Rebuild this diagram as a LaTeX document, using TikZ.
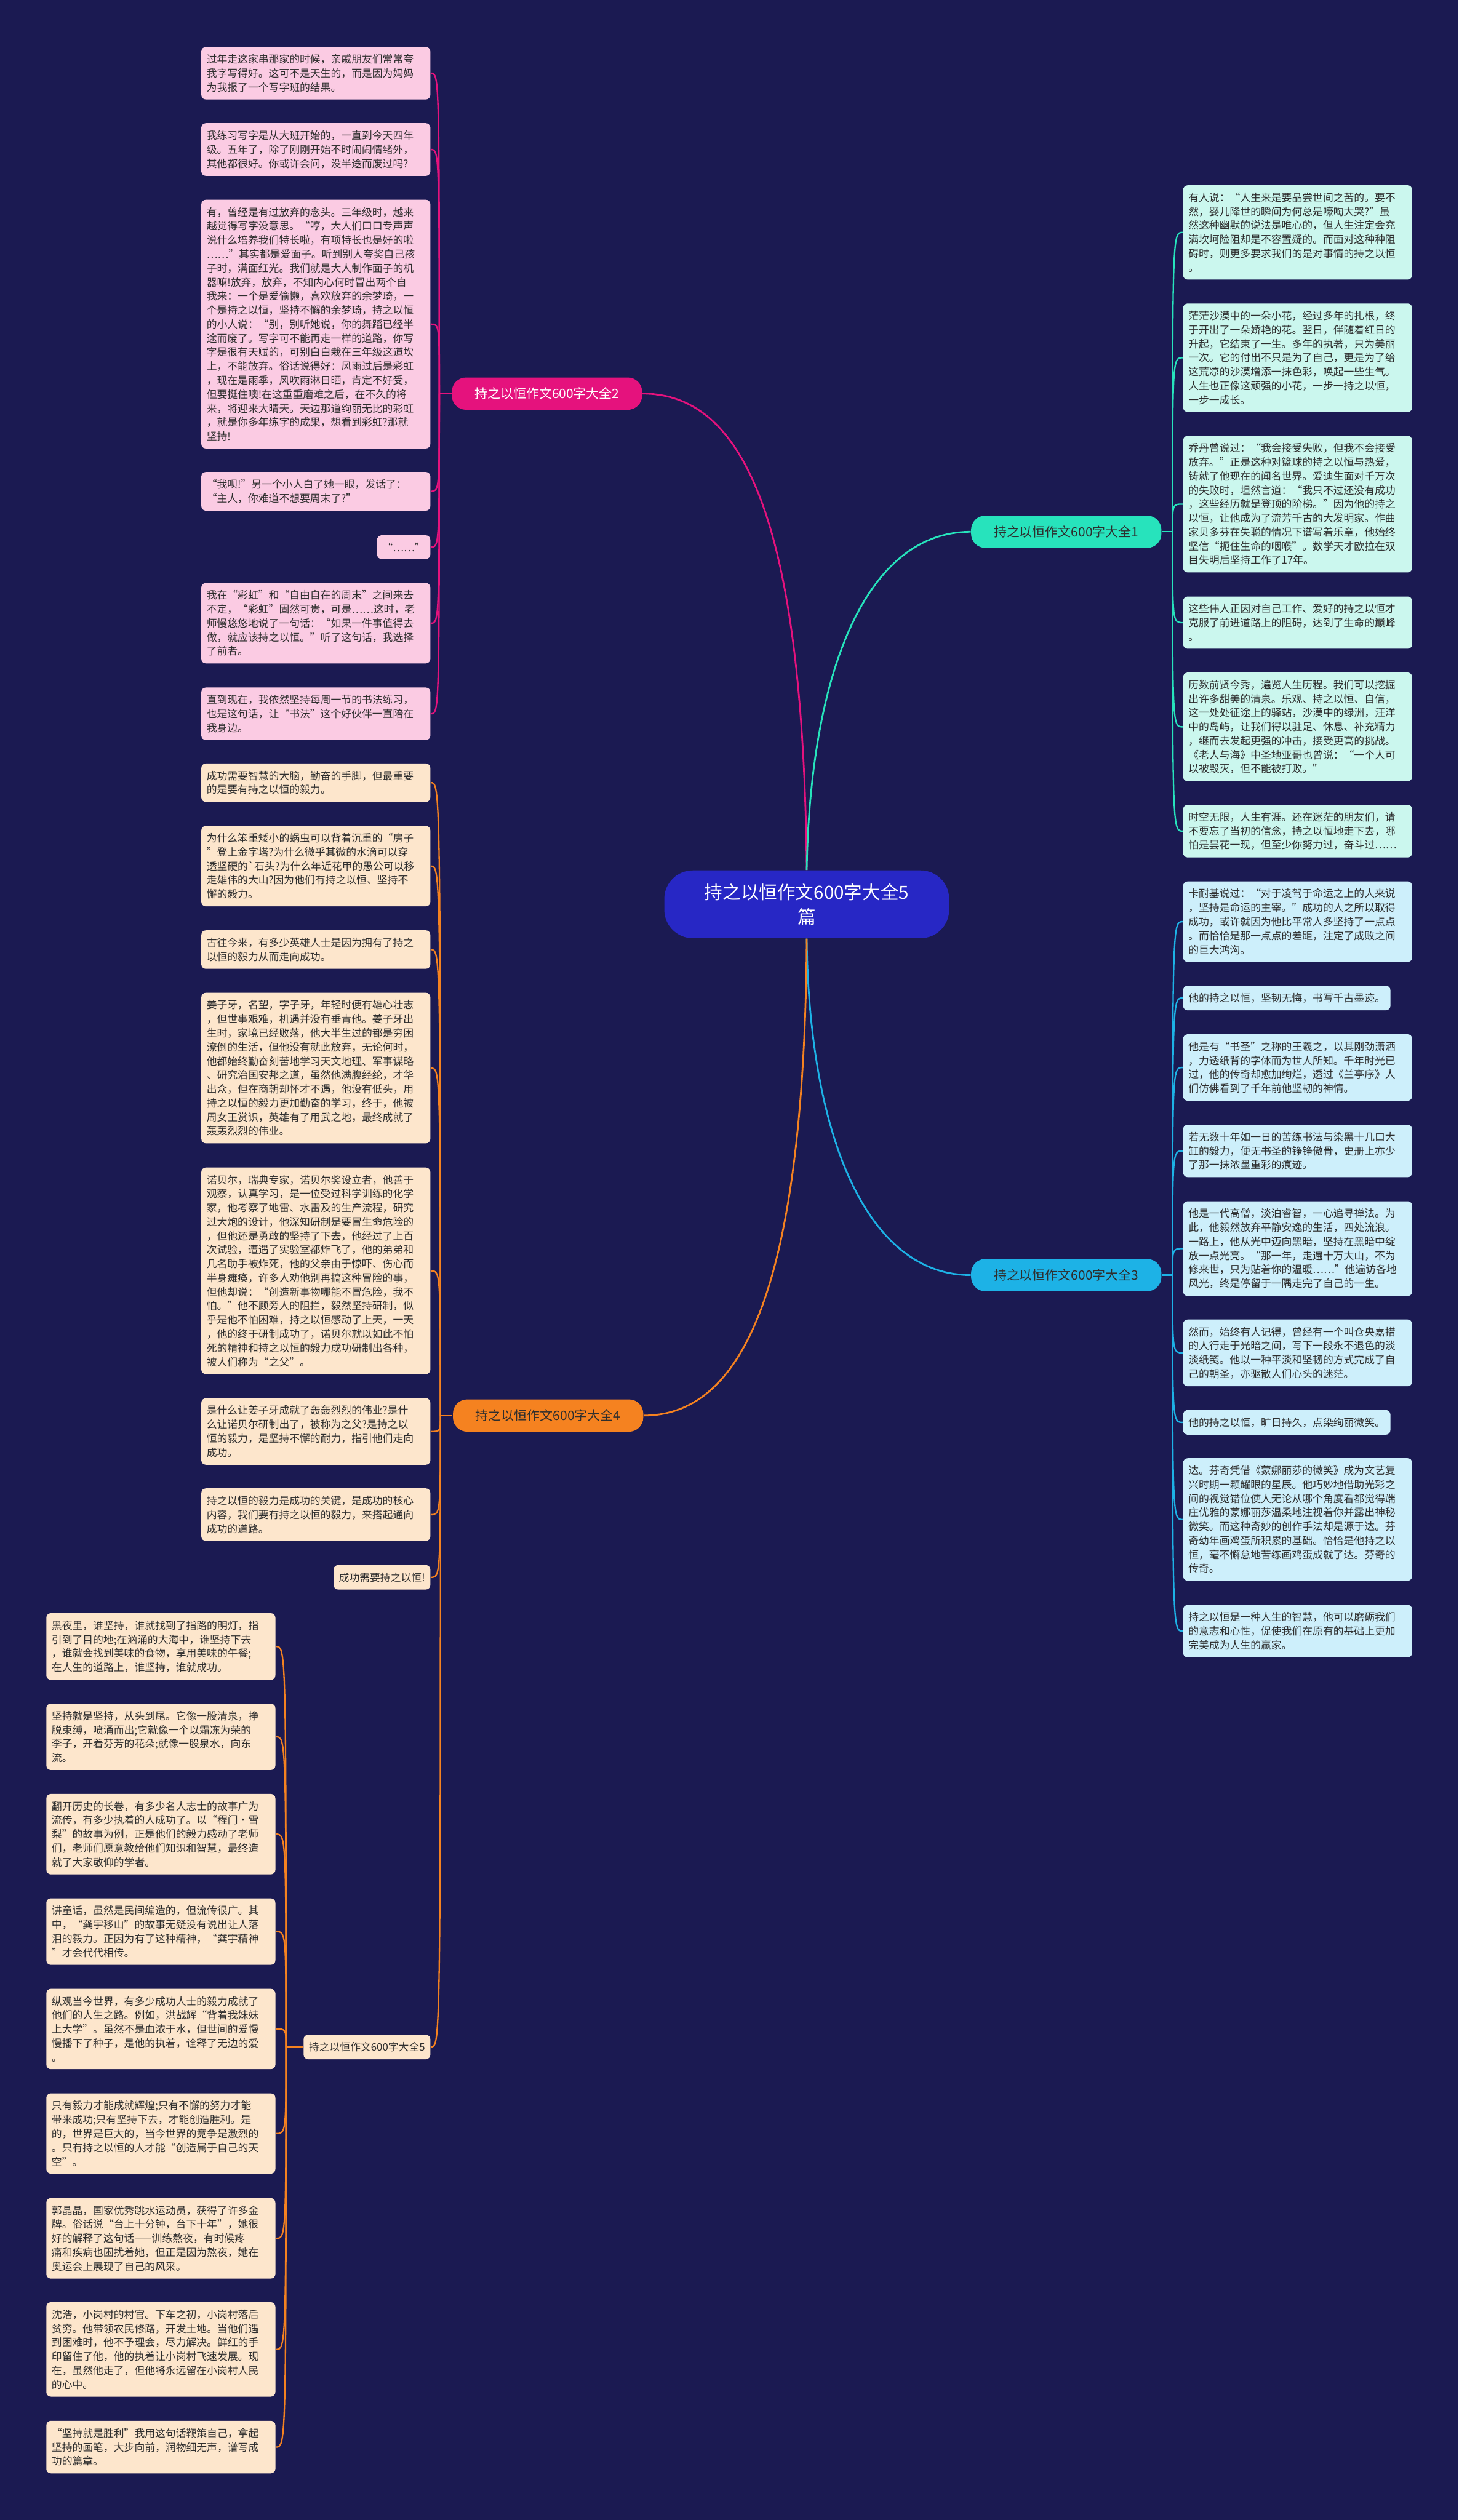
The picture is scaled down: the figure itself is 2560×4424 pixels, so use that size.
\documentclass[tikz,border=0pt]{standalone}
\usepackage{fontspec}
\setmainfont{Noto Sans CJK SC}
\definecolor{bgnavy}{HTML}{1B1A52}
\definecolor{rootfill}{HTML}{2727C5}
\definecolor{pinkline}{HTML}{E5127D}
\definecolor{pinkbox}{HTML}{FBCBE3}
\definecolor{tealline}{HTML}{27E3BC}
\definecolor{tealbox}{HTML}{CBF7EE}
\definecolor{skyline}{HTML}{1DB2E6}
\definecolor{skybox}{HTML}{CDEFFB}
\definecolor{orangeline}{HTML}{F58220}
\definecolor{peachbox}{HTML}{FDE6CC}
\definecolor{leaftext}{HTML}{2E2E2E}
\tikzset{
  root/.style={fill=rootfill, text=white, rounded corners=15pt, minimum width=150pt,
    minimum height=35.7pt, align=center, inner sep=0pt, font=\fontsize{9.6pt}{13pt}\selectfont},
  lbl/.style={rounded corners=7.5pt, minimum width=100.2pt, minimum height=17pt, inner sep=0pt,
    font=\fontsize{6.8pt}{7.8pt}\selectfont},
  leaf/.style={rounded corners=2.4pt, inner xsep=2.8pt, inner ysep=3.9pt, text=leaftext,
    font=\fontsize{5.45pt}{7.38pt}\selectfont},
  wide/.style={leaf, text width=115pt, align=left},
  pleaf/.style={wide, fill=pinkbox, anchor=east},
  tleaf/.style={wide, fill=tealbox, anchor=west},
  sleaf/.style={wide, fill=skybox, anchor=west},
  oleaf/.style={wide, fill=peachbox, anchor=east},
  main/.style={line width=0.9pt},
  wire/.style={line width=0.75pt}
}
\begin{document}
\begin{tikzpicture}[x=0.3pt,y=-0.3pt]
\fill [bgnavy] (0,0) rectangle (2560,4424);
% centre and branches
\node [root](root) at (1416,1587.5) {持之以恒作文600字大全5\\篇};
\node [lbl, fill=pinkline, text=white](b2) at (960,691) {持之以恒作文600字大全2};
\node [lbl, fill=tealline, text=leaftext](b1) at (1871.5,933.5) {持之以恒作文600字大全1};
\node [lbl, fill=skyline, text=leaftext](b3) at (1871.5,2238.5) {持之以恒作文600字大全3};
\node [lbl, fill=orangeline, text=leaftext](b4) at (962,2485) {持之以恒作文600字大全4};
\coordinate (j2) at (771,691);
\coordinate (j1) at (2058,933.5);
\coordinate (j3) at (2058,2238.5);
\coordinate (j4) at (773,2485);
\coordinate (j5) at (502,3593.5);
% branch 2
\node [pleaf](p1) at (756,128.5) {过年走这家串那家的时候，亲戚朋友们常常夸\\
我字写得好。这可不是天生的，而是因为妈妈\\
为我报了一个写字班的结果。};
\node [pleaf](p2) at (756,262.5) {我练习写字是从大班开始的，一直到今天四年\\
级。五年了，除了刚刚开始不时闹闹情绪外，\\
其他都很好。你或许会问，没半途而废过吗?};
\node [pleaf](p3) at (756,569) {有，曾经是有过放弃的念头。三年级时，越来\\
越觉得写字没意思。“哼，大人们口口专声声\\
说什么培养我们特长啦，有项特长也是好的啦\\
……”其实都是爱面子。听到别人夸奖自己孩\\
子时，满面红光。我们就是大人制作面子的机\\
器嘛!放弃，放弃，不知内心何时冒出两个自\\
我来：一个是爱偷懒，喜欢放弃的余梦琦，一\\
个是持之以恒，坚持不懈的余梦琦，持之以恒\\
的小人说：“别，别听她说，你的舞蹈已经半\\
途而废了。写字可不能再走一样的道路，你写\\
字是很有天赋的，可别白白栽在三年级这道坎\\
上，不能放弃。俗话说得好：风雨过后是彩虹\\
，现在是雨季，风吹雨淋日晒，肯定不好受，\\
但要挺住噢!在这重重磨难之后，在不久的将\\
来，将迎来大晴天。天边那道绚丽无比的彩虹\\
，就是你多年练字的成果，想看到彩虹?那就\\
坚持!};
\node [pleaf](p4) at (756,862.5) {“我呗!”另一个小人白了她一眼，发话了：\\
“主人，你难道不想要周末了?”};
\node [leaf, fill=pinkbox, anchor=east](p5) at (756,960.5) {“……”};
\node [pleaf](p6) at (756,1094) {我在“彩虹”和“自由自在的周末”之间来去\\
不定，“彩虹”固然可贵，可是……这时，老\\
师慢悠悠地说了一句话：“如果一件事值得去\\
做，就应该持之以恒。”听了这句话，我选择\\
了前者。};
\node [pleaf](p7) at (756,1253) {直到现在，我依然坚持每周一节的书法练习，\\
也是这句话，让“书法”这个好伙伴一直陪在\\
我身边。};
% branch 1
\node [tleaf](c1) at (2076,408) {有人说：“人生来是要品尝世间之苦的。要不\\
然，婴儿降世的瞬间为何总是嚎啕大哭?”虽\\
然这种幽默的说法是唯心的，但人生注定会充\\
满坎坷险阻却是不容置疑的。而面对这种种阻\\
碍时，则更多要求我们的是对事情的持之以恒\\
。};
\node [tleaf](c2) at (2076,628) {茫茫沙漠中的一朵小花，经过多年的扎根，终\\
于开出了一朵娇艳的花。翌日，伴随着红日的\\
升起，它结束了一生。多年的执著，只为美丽\\
一次。它的付出不只是为了自己，更是为了给\\
这荒凉的沙漠增添一抹色彩，唤起一些生气。\\
人生也正像这顽强的小花，一步一持之以恒，\\
一步一成长。};
\node [tleaf](c3) at (2076,885) {乔丹曾说过：“我会接受失败，但我不会接受\\
放弃。”正是这种对篮球的持之以恒与热爱，\\
铸就了他现在的闻名世界。爱迪生面对千万次\\
的失败时，坦然言道：“我只不过还没有成功\\
，这些经历就是登顶的阶梯。”因为他的持之\\
以恒，让他成为了流芳千古的大发明家。作曲\\
家贝多芬在失聪的情况下谱写着乐章，他始终\\
坚信“扼住生命的咽喉”。数学天才欧拉在双\\
目失明后坚持工作了17年。};
\node [tleaf](c4) at (2076,1093) {这些伟人正因对自己工作、爱好的持之以恒才\\
克服了前进道路上的阻碍，达到了生命的巅峰\\
。};
\node [tleaf](c5) at (2076,1276) {历数前贤今秀，遍览人生历程。我们可以挖掘\\
出许多甜美的清泉。乐观、持之以恒、自信，\\
这一处处征途上的驿站，沙漠中的绿洲，汪洋\\
中的岛屿，让我们得以驻足、休息、补充精力\\
，继而去发起更强的冲击，接受更高的挑战。\\
《老人与海》中圣地亚哥也曾说：“一个人可\\
以被毁灭，但不能被打败。”};
\node [tleaf](c6) at (2076,1459) {时空无限，人生有涯。还在迷茫的朋友们，请\\
不要忘了当初的信念，持之以恒地走下去，哪\\
怕是昙花一现，但至少你努力过，奋斗过……};
% branch 3
\node [sleaf](s1) at (2076,1618) {卡耐基说过：“对于凌驾于命运之上的人来说\\
，坚持是命运的主宰。”成功的人之所以取得\\
成功，或许就因为他比平常人多坚持了一点点\\
。而恰恰是那一点点的差距，注定了成败之间\\
的巨大鸿沟。};
\node [leaf, fill=skybox, anchor=west](s2) at (2076,1752) {他的持之以恒，坚韧无悔，书写千古墨迹。};
\node [sleaf](s3) at (2076,1874) {他是有“书圣”之称的王羲之，以其刚劲潇洒\\
，力透纸背的字体而为世人所知。千年时光已\\
过，他的传奇却愈加绚烂，透过《兰亭序》人\\
们仿佛看到了千年前他坚韧的神情。};
\node [sleaf](s4) at (2076,2020.5) {若无数十年如一日的苦练书法与染黑十几口大\\
缸的毅力，便无书圣的铮铮傲骨，史册上亦少\\
了那一抹浓墨重彩的痕迹。};
\node [sleaf](s5) at (2076,2192) {他是一代高僧，淡泊睿智，一心追寻禅法。为\\
此，他毅然放弃平静安逸的生活，四处流浪。\\
一路上，他从光中迈向黑暗，坚持在黑暗中绽\\
放一点光亮。“那一年，走遍十万大山，不为\\
修来世，只为贴着你的温暖……”他遍访各地\\
风光，终是停留于一隅走完了自己的一生。};
\node [sleaf](s6) at (2076,2375) {然而，始终有人记得，曾经有一个叫仓央嘉措\\
的人行走于光暗之间，写下一段永不退色的淡\\
淡纸笺。他以一种平淡和坚韧的方式完成了自\\
己的朝圣，亦驱散人们心头的迷茫。};
\node [leaf, fill=skybox, anchor=west](s7) at (2076,2497) {他的持之以恒，旷日持久，点染绚丽微笑。};
\node [sleaf](s8) at (2076,2667.5) {达。芬奇凭借《蒙娜丽莎的微笑》成为文艺复\\
兴时期一颗耀眼的星辰。他巧妙地借助光彩之\\
间的视觉错位使人无论从哪个角度看都觉得端\\
庄优雅的蒙娜丽莎温柔地注视着你并露出神秘\\
微笑。而这种奇妙的创作手法却是源于达。芬\\
奇幼年画鸡蛋所积累的基础。恰恰是他持之以\\
恒，毫不懈怠地苦练画鸡蛋成就了达。芬奇的\\
传奇。};
\node [sleaf](s9) at (2076,2863.5) {持之以恒是一种人生的智慧，他可以磨砺我们\\
的意志和心性，促使我们在原有的基础上更加\\
完美成为人生的赢家。};
% branch 4
\node [oleaf](o1) at (756,1374) {成功需要智慧的大脑，勤奋的手脚，但最重要\\
的是要有持之以恒的毅力。};
\node [oleaf](o2) at (756,1520.5) {为什么笨重矮小的蜗虫可以背着沉重的“房子\\
”登上金字塔?为什么微乎其微的水滴可以穿\\
透坚硬的\textasciigrave 石头?为什么年近花甲的愚公可以移\\
走雄伟的大山?因为他们有持之以恒、坚持不\\
懈的毅力。};
\node [oleaf](o3) at (756,1667) {古往今来，有多少英雄人士是因为拥有了持之\\
以恒的毅力从而走向成功。};
\node [oleaf](o4) at (756,1875) {姜子牙，名望，字子牙，年轻时便有雄心壮志\\
，但世事艰难，机遇并没有垂青他。姜子牙出\\
生时，家境已经败落，他大半生过的都是穷困\\
潦倒的生活，但他没有就此放弃，无论何时，\\
他都始终勤奋刻苦地学习天文地理、军事谋略\\
、研究治国安邦之道，虽然他满腹经纶，才华\\
出众，但在商朝却怀才不遇，他没有低头，用\\
持之以恒的毅力更加勤奋的学习，终于，他被\\
周女王赏识，英雄有了用武之地，最终成就了\\
轰轰烈烈的伟业。};
\node [oleaf](o5) at (756,2231) {诺贝尔，瑞典专家，诺贝尔奖设立者，他善于\\
观察，认真学习，是一位受过科学训练的化学\\
家，他考察了地雷、水雷及的生产流程，研究\\
过大炮的设计，他深知研制是要冒生命危险的\\
，但他还是勇敢的坚持了下去，他经过了上百\\
次试验，遭遇了实验室都炸飞了，他的弟弟和\\
几名助手被炸死，他的父亲由于惊吓、伤心而\\
半身瘫痪，许多人劝他别再搞这种冒险的事，\\
但他却说：“创造新事物哪能不冒危险，我不\\
怕。”他不顾旁人的阻拦，毅然坚持研制，似\\
乎是他不怕困难，持之以恒感动了上天，一天\\
，他的终于研制成功了，诺贝尔就以如此不怕\\
死的精神和持之以恒的毅力成功研制出各种，\\
被人们称为“之父”。};
\node [oleaf](o6) at (756,2513) {是什么让姜子牙成就了轰轰烈烈的伟业?是什\\
么让诺贝尔研制出了，被称为之父?是持之以\\
恒的毅力，是坚持不懈的耐力，指引他们走向\\
成功。};
\node [oleaf](o7) at (756,2659) {持之以恒的毅力是成功的关键，是成功的核心\\
内容，我们要有持之以恒的毅力，来搭起通向\\
成功的道路。};
\node [leaf, fill=peachbox, anchor=east](o8) at (756,2769) {成功需要持之以恒!};
\node [leaf, fill=peachbox, anchor=east](b5) at (756,3593.5) {持之以恒作文600字大全5};
% branch 5
\node [oleaf](f1) at (484,2890.5) {黑夜里，谁坚持，谁就找到了指路的明灯，指\\
引到了目的地;在汹涌的大海中，谁坚持下去\\
，谁就会找到美味的食物，享用美味的午餐;\\
在人生的道路上，谁坚持，谁就成功。};
\node [oleaf](f2) at (484,3049) {坚持就是坚持，从头到尾。它像一股清泉，挣\\
脱束缚，喷涌而出;它就像一个以霜冻为荣的\\
李子，开着芬芳的花朵;就像一股泉水，向东\\
流。};
\node [oleaf](f3) at (484,3220) {翻开历史的长卷，有多少名人志士的故事广为\\
流传，有多少执着的人成功了。以“程门·雪\\
梨”的故事为例，正是他们的毅力感动了老师\\
们，老师们愿意教给他们知识和智慧，最终造\\
就了大家敬仰的学者。};
\node [oleaf](f4) at (484,3391) {讲童话，虽然是民间编造的，但流传很广。其\\
中，“龚宇移山”的故事无疑没有说出让人落\\
泪的毅力。正因为有了这种精神，“龚宇精神\\
”才会代代相传。};
\node [oleaf](f5) at (484,3562) {纵观当今世界，有多少成功人士的毅力成就了\\
他们的人生之路。例如，洪战辉“背着我妹妹\\
上大学”。虽然不是血浓于水，但世间的爱慢\\
慢播下了种子，是他的执着，诠释了无边的爱\\
。};
\node [oleaf](f6) at (484,3745.5) {只有毅力才能成就辉煌;只有不懈的努力才能\\
带来成功;只有坚持下去，才能创造胜利。是\\
的，世界是巨大的，当今世界的竞争是激烈的\\
。只有持之以恒的人才能“创造属于自己的天\\
空”。};
\node [oleaf](f7) at (484,3929.5) {郭晶晶，国家优秀跳水运动员，获得了许多金\\
牌。俗话说“台上十分钟，台下十年”，她很\\
好的解释了这句话——训练熬夜，有时候疼\\
痛和疾病也困扰着她，但正是因为熬夜，她在\\
奥运会上展现了自己的风采。};
\node [oleaf](f8) at (484,4124.5) {沈浩，小岗村的村官。下车之初，小岗村落后\\
贫穷。他带领农民修路，开发土地。当他们遇\\
到困难时，他不予理会，尽力解决。鲜红的手\\
印留住了他，他的执着让小岗村飞速发展。现\\
在，虽然他走了，但他将永远留在小岗村人民\\
的心中。};
\node [oleaf](f9) at (484,4296) {“坚持就是胜利”我用这句话鞭策自己，拿起\\
坚持的画笔，大步向前，润物细无声，谱写成\\
功的篇章。};
% connectors
\draw [pinkline, main] (root.north) .. controls (1410,900) and (1300,691) .. (b2.east);
\draw [tealline, main] (root.north) .. controls (1422,1180) and (1520,933.5) .. (b1.west);
\draw [skyline, main] (root.south) .. controls (1420,1990) and (1520,2238.5) .. (b3.west);
\draw [orangeline, main] (root.south) .. controls (1412,2270) and (1300,2485) .. (b4.east);
\draw [pinkline, wire] (b2.west) -- (j2);
\draw [tealline, wire] (b1.east) -- (j1);
\draw [skyline, wire] (b3.east) -- (j3);
\draw [orangeline, wire] (b4.west) -- (j4);
\draw [orangeline, wire] (b5.west) -- (j5);
\foreach \n in {p1,p2,p3,p4,p5,p6,p7}
  \draw [pinkline, wire] (j2) .. controls (j2 |- \n.east) .. (\n.east);
\foreach \n in {c1,c2,c3,c4,c5,c6}
  \draw [tealline, wire] (j1) .. controls (j1 |- \n.west) .. (\n.west);
\foreach \n in {s1,s2,s3,s4,s5,s6,s7,s8,s9}
  \draw [skyline, wire] (j3) .. controls (j3 |- \n.west) .. (\n.west);
\foreach \n in {o1,o2,o3,o4,o5,o6,o7,o8,b5}
  \draw [orangeline, wire] (j4) .. controls (j4 |- \n.east) .. (\n.east);
\foreach \n in {f1,f2,f3,f4,f5,f6,f7,f8,f9}
  \draw [orangeline, wire] (j5) .. controls (j5 |- \n.east) .. (\n.east);
\end{tikzpicture}
\end{document}
